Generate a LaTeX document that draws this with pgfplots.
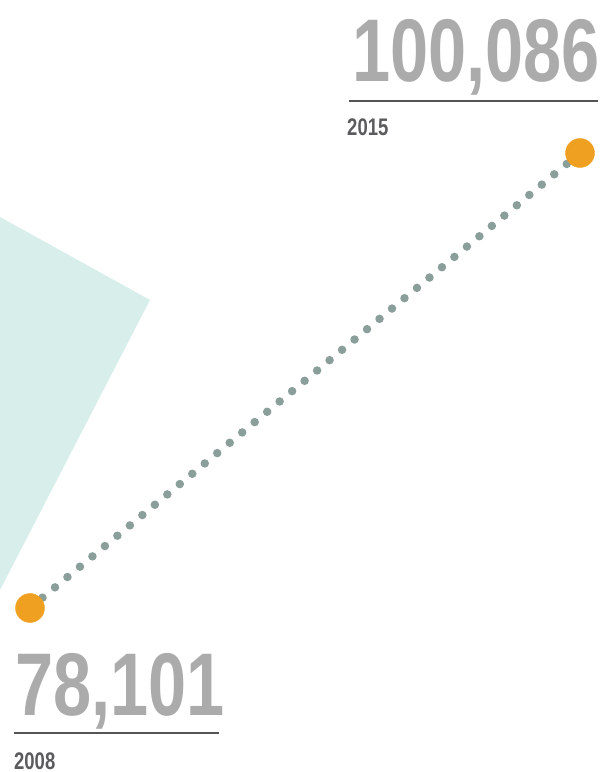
\documentclass[border=0pt]{standalone}
\usepackage{pgfplots}
\pgfplotsset{compat=1.18}
\usepackage{fontspec}
\setmainfont{Liberation Sans}[FakeStretch=0.77]
\definecolor{numgrey}{HTML}{ABABAB}
\definecolor{yeargrey}{HTML}{5B5B5D}
\definecolor{rulegrey}{HTML}{555555}
\definecolor{dotgrey}{HTML}{8A9E9A}
\definecolor{pointorange}{HTML}{F0A020}
\definecolor{teal}{HTML}{D7EEEA}

\begin{document}
\begin{tikzpicture}
\begin{axis}[
    width=603pt, height=772pt,
    scale only axis,
    axis lines=none,
    xmin=2007.618, xmax=2015.2927,
    ymin=70176.7, ymax=107479,
    clip mode=individual,
]
% background shape
\addplot[draw=none, fill=teal] coordinates {
    (2007.618,96994) (2009.527,92984) (2007.618,78971)
} -- cycle;
% connecting line
\addplot[dotgrey, line width=8.5pt, line cap=round, dash pattern=on 0pt off 16.2pt] coordinates {
    (2008,78101) (2015,100086)
};
% end points
\addplot[pointorange, only marks, mark=*, mark size=14.5pt, mark options={fill=pointorange, draw=pointorange}] coordinates {
    (2008,78101) (2015,100086)
};
% labels
\node[anchor=base west, inner sep=0pt, text=numgrey, font=\fontsize{89}{89}\selectfont\bfseries]
    at (rel axis cs:0.5837,0.8938) {100,086};
\draw[rulegrey, line width=1.4pt] (rel axis cs:0.5788,0.8692) -- (rel axis cs:0.9917,0.8692);
\node[anchor=base west, inner sep=0pt, text=yeargrey, font=\fontsize{24}{24}\selectfont\bfseries]
    at (rel axis cs:0.5755,0.8251) {2015};
\node[anchor=base west, inner sep=0pt, text=numgrey, font=\fontsize{89}{89}\selectfont\bfseries]
    at (rel axis cs:0.0249,0.0738) {78,101};
\draw[rulegrey, line width=1.4pt] (rel axis cs:0.0232,0.0505) -- (rel axis cs:0.3632,0.0505);
\node[anchor=base west, inner sep=0pt, text=yeargrey, font=\fontsize{24}{24}\selectfont\bfseries]
    at (rel axis cs:0.0232,0.0030) {2008};
\end{axis}
\pgfresetboundingbox
\path (current axis.south west) rectangle (current axis.north east);
\end{tikzpicture}
\end{document}
